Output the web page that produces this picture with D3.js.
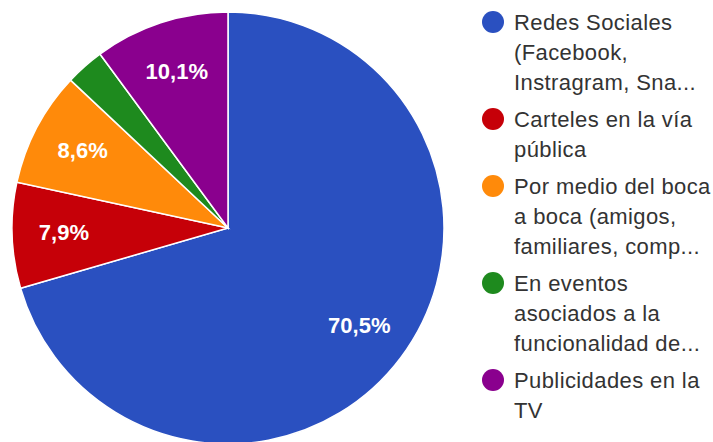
<!DOCTYPE html>
<html>
<head>
<meta charset="utf-8">
<script src="https://cdn.jsdelivr.net/npm/d3@7"></script>
<style>
  html, body { margin: 0; padding: 0; background: #fff; }
  svg { display: block; }
</style>
</head>
<body>
<svg id="chart" width="713" height="442"></svg>
<script>
// Survey answers: how respondents heard about it
const categories = [
  "Redes Sociales (Facebook, Instragram, Sna...",
  "Carteles en la vía pública",
  "Por medio del boca a boca (amigos, familiares, comp...",
  "En eventos asociados a la funcionalidad de...",
  "Publicidades en la TV"
];
const legendLines = [
  ["Redes Sociales", "(Facebook,", "Instragram, Sna..."],
  ["Carteles en la vía", "pública"],
  ["Por medio del boca", "a boca (amigos,", "familiares, comp..."],
  ["En eventos", "asociados a la", "funcionalidad de..."],
  ["Publicidades en la", "TV"]
];
const values = [70.5, 7.9, 8.6, 2.9, 10.1];
const valueLabels = ["70,5%", "7,9%", "8,6%", "", "10,1%"];
const colors = ["#2a50c0", "#c60008", "#ff8a0a", "#1e8a1e", "#8a008e"];

const svg = d3.select("#chart");
const cx = 228, cy = 228, radius = 216;

const pie = d3.pie().sort(null).value(d => d.value);
const arc = d3.arc().innerRadius(0).outerRadius(radius);
const labelArc = d3.arc().innerRadius(radius * 0.76).outerRadius(radius * 0.76);

const data = categories.map((c, i) => ({ name: c, value: values[i], label: valueLabels[i], color: colors[i] }));
const arcs = pie(data);

const g = svg.append("g").attr("transform", `translate(${cx},${cy})`);

g.selectAll("path.slice")
  .data(arcs)
  .join("path")
  .attr("class", "slice")
  .attr("d", arc)
  .attr("fill", d => d.data.color)
  .attr("stroke", "#fff")
  .attr("stroke-width", 1.5);

g.selectAll("text.pct")
  .data(arcs.filter(d => d.data.label))
  .join("text")
  .attr("class", "pct")
  .attr("transform", d => `translate(${labelArc.centroid(d)})`)
  .attr("text-anchor", "middle")
  .attr("dy", "0.3em")
  .attr("fill", "#fff")
  .attr("font-family", "Arial, 'Liberation Sans', sans-serif")
  .attr("font-weight", "bold")
  .attr("font-size", 22)
  .text(d => d.data.label);

// Legend
const legend = svg.append("g");
const legendX = 493, textX = 514, lineH = 30, itemGap = 7;
let y = 22;
legendLines.forEach((lines, i) => {
  const item = legend.append("g");
  item.append("circle")
    .attr("cx", legendX)
    .attr("cy", y)
    .attr("r", 11)
    .attr("fill", colors[i]);
  lines.forEach((t, j) => {
    item.append("text")
      .attr("x", textX)
      .attr("y", y + j * lineH)
      .attr("dy", "0.36em")
      .attr("fill", "#333")
      .attr("font-family", "Arial, 'Liberation Sans', sans-serif")
      .attr("font-size", 22)
      .attr("letter-spacing", 0.4)
      .text(t);
  });
  y += lines.length * lineH + itemGap;
});
</script>
</body>
</html>
